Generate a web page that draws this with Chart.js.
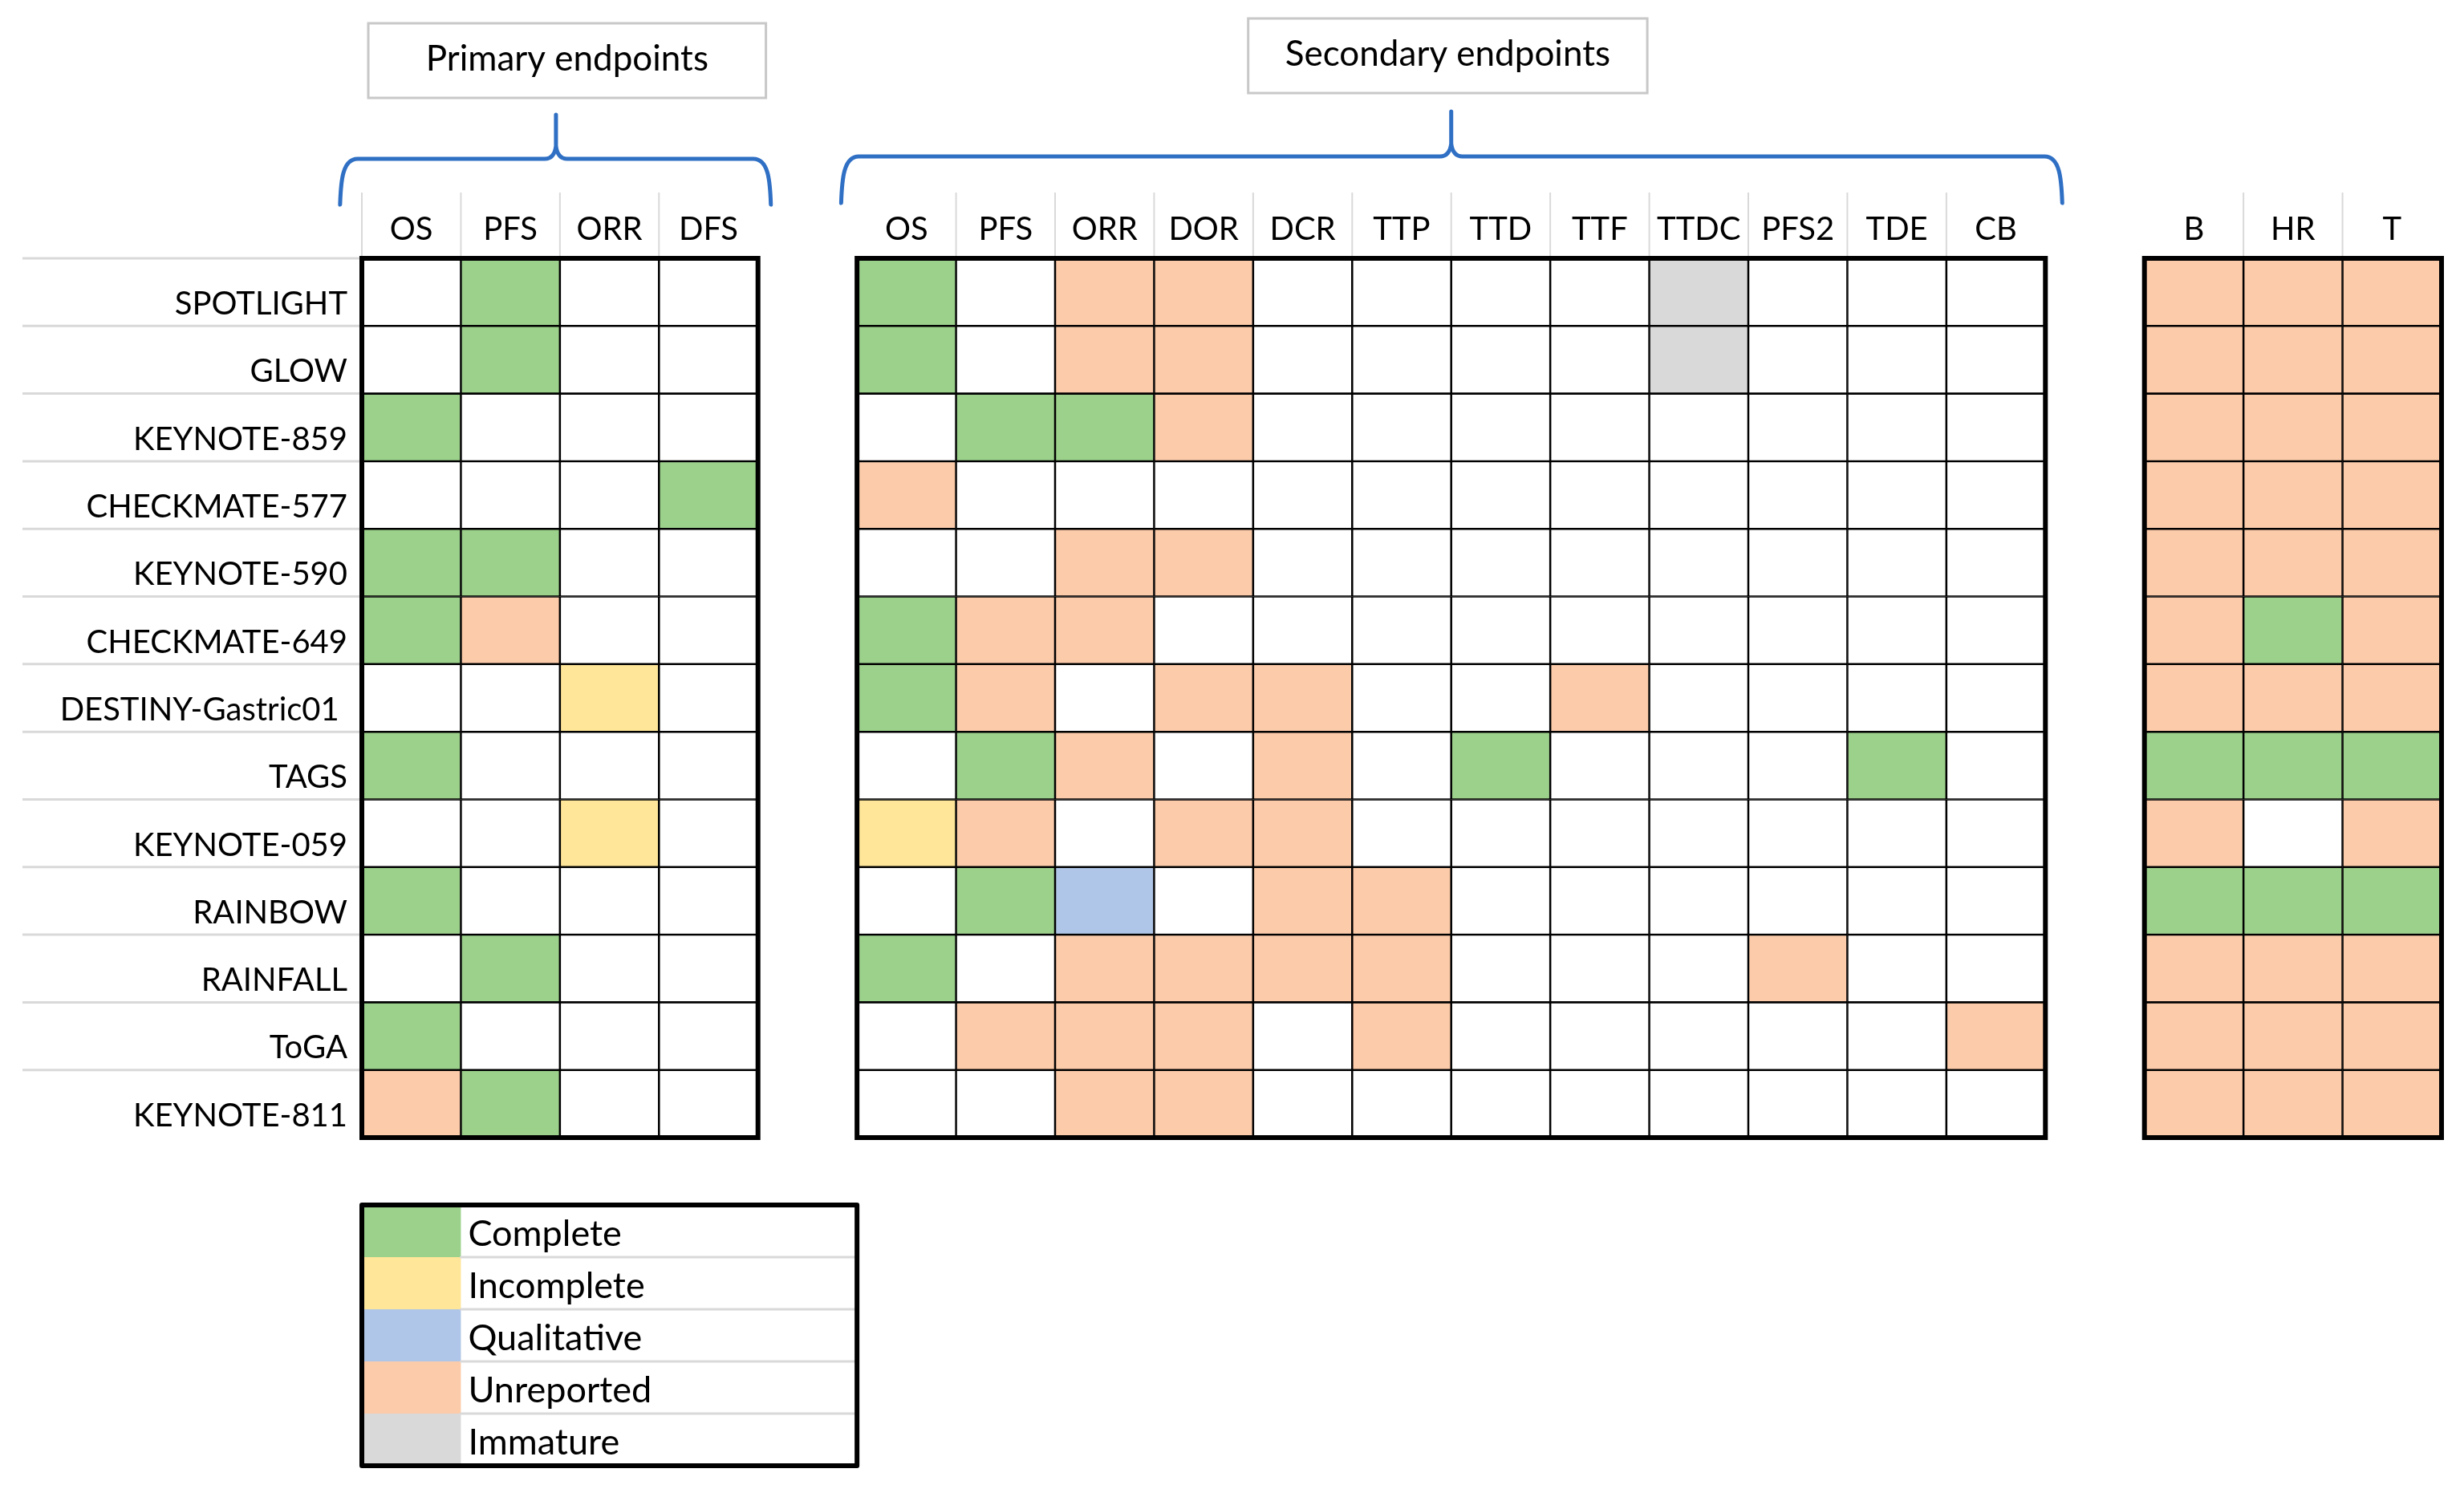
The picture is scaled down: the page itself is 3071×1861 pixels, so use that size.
<!DOCTYPE html>
<html>
<head>
<meta charset="utf-8">
<script src="https://cdn.jsdelivr.net/npm/chart.js@4.4.1/dist/chart.umd.min.js"></script>
<style>
html, body { margin: 0; padding: 0; background: #fff; }
#wrap { width: 3071px; height: 1861px; position: relative; }
</style>
</head>
<body>
<div id="wrap"><canvas id="endpointChart"></canvas></div>
<script>
const trials = ["SPOTLIGHT", "GLOW", "KEYNOTE-859", "CHECKMATE-577", "KEYNOTE-590", "CHECKMATE-649",
    "DESTINY-Gastric01 ", "TAGS", "KEYNOTE-059", "RAINBOW", "RAINFALL", "ToGA", "KEYNOTE-811"];

const primaryCols = ["OS", "PFS", "ORR", "DFS"];
const secondaryCols = ["OS", "PFS", "ORR", "DOR", "DCR", "TTP", "TTD", "TTF", "TTDC", "PFS2", "TDE", "CB"];
const otherCols = ["B", "HR", "T"];

// one string per trial, one letter per column
// C complete, I incomplete, Q qualitative, U unreported, M immature, - nothing
const primaryStatus = ["-C--", "-C--", "C---", "---C", "CC--", "CU--", "--I-", "C---", "--I-", "C---", "-C--", "C---", "UC--"];
const secondaryStatus = [
    "C-UU----M---",
    "C-UU----M---",
    "-CCU--------",
    "U-----------",
    "--UU--------",
    "CUU---------",
    "CU-UU--U----",
    "-CU-U-C---C-",
    "IU-UU-------",
    "-CQ-UU------",
    "C-UUUU---U--",
    "-UUU-U-----U",
    "--UU--------"
];
const otherStatus = ["UUU", "UUU", "UUU", "UUU", "UUU", "UCU", "UUU", "CCC", "U-U", "CCC", "UUU", "UUU", "UUU"];

const statusCodes = ["C", "I", "Q", "U", "M"];
const statusNames = ["Complete", "Incomplete", "Qualitative", "Unreported", "Immature"];
const statusColors = ["#9cd18c", "#ffe699", "#afc6e8", "#fccbaa", "#d9d9d9"];

// layout: where each block starts on the x scale (one empty column between blocks)
const blockStart = [0, 5, 18];
const totalCols = 21;
const blocks = [
    { cols: primaryCols, status: primaryStatus },
    { cols: secondaryCols, status: secondaryStatus },
    { cols: otherCols, status: otherStatus }
];

const FONT = { family: "Lato", size: 40 };

function colorOf(code) {
    let k = statusCodes.indexOf(code);
    return k >= 0 ? statusColors[k] : "#ffffff";
}

let datasets = [];
let headerPos = [];
let headerText = [];
blocks.forEach((block, b) => {
    block.cols.forEach((name, j) => {
        let c = blockStart[b] + j;
        headerPos.push(c + 0.5);
        headerText.push(name);
        datasets.push({
            label: name,
            data: trials.map(() => [c, c + 1]),
            backgroundColor: trials.map((t, i) => colorOf(block.status[i][j])),
            borderColor: "#000",
            borderWidth: 1.6,
            borderSkipped: false,
            grouped: false,
            barPercentage: 1,
            categoryPercentage: 1
        });
    });
});

function drawBrace(ctx, xL, xC, xR, yTip, yH, yEnd) {
    ctx.beginPath();
    ctx.moveTo(xL, yEnd);
    ctx.bezierCurveTo(xL + 1, yEnd - 30, xL + 3, yH, xL + 22, yH);
    ctx.lineTo(xC - 14, yH);
    ctx.quadraticCurveTo(xC - 2, yH, xC, yH - 16);
    ctx.lineTo(xC, yTip);
    ctx.moveTo(xC, yH - 16);
    ctx.quadraticCurveTo(xC + 2, yH, xC + 14, yH);
    ctx.lineTo(xR - 22, yH);
    ctx.bezierCurveTo(xR - 3, yH, xR - 1, yEnd - 30, xR, yEnd);
    ctx.stroke();
}

const decor = {
    id: "decor",
    afterDraw(chart) {
        let ctx = chart.ctx;
        let x = chart.scales.x;
        let y = chart.scales.y;
        let area = chart.chartArea;
        let rowH = (area.bottom - area.top) / trials.length;
        ctx.save();

        // light separators beside the trial names
        ctx.strokeStyle = "#d9d9d9";
        ctx.lineWidth = 3;
        trials.forEach((t, i) => {
            let yy = y.getPixelForValue(i) - rowH / 2;
            ctx.beginPath();
            ctx.moveTo(28, yy);
            ctx.lineTo(area.left, yy);
            ctx.stroke();
        });

        // light separators between column headers
        ctx.lineWidth = 2;
        blocks.forEach((block, b) => {
            for (let j = (b === 0 ? 0 : 1); j < block.cols.length; j++) {
                let xx = x.getPixelForValue(blockStart[b] + j);
                ctx.beginPath();
                ctx.moveTo(xx, 240);
                ctx.lineTo(xx, area.top);
                ctx.stroke();
            }
        });

        // heavy outline round each block
        ctx.strokeStyle = "#000";
        ctx.lineWidth = 6;
        blocks.forEach((block, b) => {
            let x0 = x.getPixelForValue(blockStart[b]);
            let x1 = x.getPixelForValue(blockStart[b] + block.cols.length);
            ctx.strokeRect(x0, area.top, x1 - x0, area.bottom - area.top);
        });

        // group titles
        ctx.font = "44px Lato";
        ctx.fillStyle = "#000";
        ctx.textAlign = "center";
        ctx.textBaseline = "middle";
        [["Primary endpoints", 0.065, 4.08, 29, 122], ["Secondary endpoints", 8.95, 12.98, 23, 116]].forEach(t => {
            let x0 = x.getPixelForValue(t[1]);
            let x1 = x.getPixelForValue(t[2]);
            ctx.strokeStyle = "#c8c8c8";
            ctx.lineWidth = 3;
            ctx.strokeRect(x0, t[3], x1 - x0, t[4] - t[3]);
            ctx.fillText(t[0], (x0 + x1) / 2, (t[3] + t[4]) / 2 - 2);
        });

        // braces
        ctx.strokeStyle = "#2f6fc4";
        ctx.lineWidth = 5;
        ctx.lineCap = "round";
        ctx.lineJoin = "round";
        drawBrace(ctx, x.getPixelForValue(-0.22), x.getPixelForValue(1.96), x.getPixelForValue(4.13), 143, 198, 255);
        drawBrace(ctx, x.getPixelForValue(4.84), x.getPixelForValue(11.0), x.getPixelForValue(17.17), 139, 195, 253);

        // legend table
        let lx0 = x.getPixelForValue(0);
        let lx1 = x.getPixelForValue(1);
        let lx2 = x.getPixelForValue(5);
        let ly0 = 1502;
        let lh = 65;
        ctx.font = "45px Lato";
        ctx.textAlign = "left";
        ctx.textBaseline = "alphabetic";
        statusNames.forEach((name, k) => {
            let top = ly0 + k * lh;
            ctx.fillStyle = statusColors[k];
            ctx.fillRect(lx0, top, lx1 - lx0, lh);
            if (k > 0) {
                ctx.strokeStyle = "#d9d9d9";
                ctx.lineWidth = 3;
                ctx.beginPath();
                ctx.moveTo(lx1, top);
                ctx.lineTo(lx2, top);
                ctx.stroke();
            }
            ctx.fillStyle = "#000";
            ctx.fillText(name, lx1 + 9, top + lh - 14);
        });
        ctx.strokeStyle = "#000";
        ctx.lineWidth = 6;
        ctx.strokeRect(lx0, ly0, lx2 - lx0, lh * statusNames.length);

        ctx.restore();
    }
};

new Chart(document.getElementById("endpointChart"), {
    type: "bar",
    data: { labels: trials, datasets: datasets },
    options: {
        indexAxis: "y",
        responsive: true,
        maintainAspectRatio: false,
        devicePixelRatio: 1,
        animation: false,
        layout: { padding: { top: 0, left: 0, right: 28, bottom: 443 } },
        plugins: { legend: { display: false }, tooltip: { enabled: false } },
        scales: {
            x: {
                type: "linear",
                position: "top",
                min: 0,
                max: totalCols,
                grid: { display: false, drawTicks: false },
                border: { display: false },
                afterBuildTicks: s => { s.ticks = headerPos.map(v => ({ value: v })); },
                afterFit: s => { s.height = 322; },
                ticks: {
                    autoSkip: false,
                    maxRotation: 0,
                    padding: 12,
                    color: "#000",
                    font: FONT,
                    callback: (v, i) => headerText[i]
                }
            },
            y: {
                type: "category",
                offset: true,
                grid: { display: false, drawTicks: false },
                border: { display: false },
                afterFit: s => { s.width = 451; },
                ticks: {
                    autoSkip: false,
                    padding: 18,
                    labelOffset: 15,
                    color: "#000",
                    font: FONT
                }
            }
        }
    },
    plugins: [decor]
});
</script>
</body>
</html>
